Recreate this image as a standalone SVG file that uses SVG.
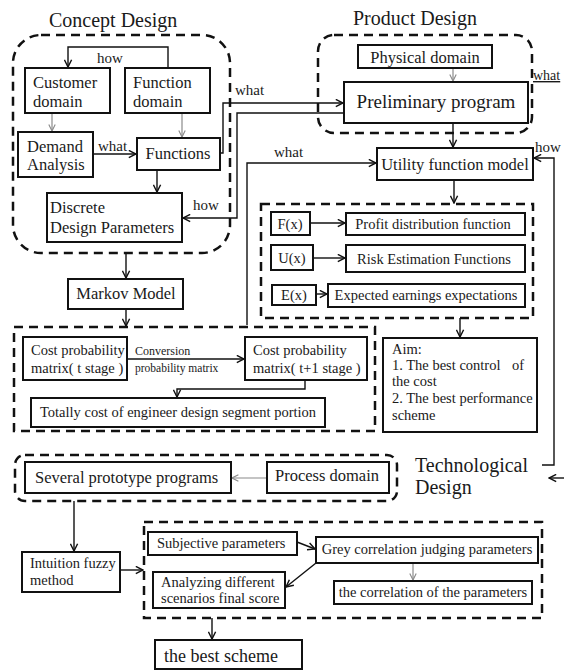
<svg xmlns="http://www.w3.org/2000/svg" width="564" height="670" viewBox="0 0 564 670">
<defs>
<style>
text{font-family:"Liberation Serif","Times New Roman",serif;fill:#1a1a1a}
.box{fill:#fff;stroke:#111;stroke-width:2}
.dash{fill:none;stroke:#111;stroke-width:2.5;stroke-dasharray:9 6}
.c{fill:none;stroke:#111;stroke-width:1.4;marker-end:url(#ah)}
.cn{fill:none;stroke:#111;stroke-width:1.4}
.g{fill:none;stroke:#8a8a8a;stroke-width:1.2;marker-end:url(#ag)}
.t16{font-size:16.5px}
.t14{font-size:14.5px}
.t15{font-size:15px}
.t20{font-size:20px}
.mid{text-anchor:middle}
</style>
<marker id="ah" viewBox="0 0 10 10" refX="9" refY="5" markerWidth="9" markerHeight="9" markerUnits="userSpaceOnUse" orient="auto"><path d="M1,1 L9,5 L1,9" fill="none" stroke="#111" stroke-width="1.6"/></marker>
<marker id="ag" viewBox="0 0 10 10" refX="9" refY="5" markerWidth="8" markerHeight="8" markerUnits="userSpaceOnUse" orient="auto"><path d="M1,1 L9,5 L1,9" fill="none" stroke="#8a8a8a" stroke-width="1.4"/></marker>
</defs>
<rect width="564" height="670" fill="#fff"/>

<g id="containers">
<rect id="concept-design" class="dash" x="13" y="35" width="217" height="218" rx="28"/>
<rect id="product-design" class="dash" x="318" y="35" width="214" height="98" rx="16"/>
<rect id="utility-functions" class="dash" x="261" y="204" width="272" height="114"/>
<rect id="markov-group" class="dash" x="14" y="327" width="361" height="104"/>
<rect id="technological-design" class="dash" x="15" y="455" width="382" height="46" rx="10"/>
<rect id="evaluation-group" class="dash" x="144" y="522" width="398" height="96"/>
<text class="t20" x="49" y="27">Concept Design</text>
<text class="t20" x="353" y="25">Product Design</text>
<text class="t20" x="415" y="472">Technological</text>
<text class="t20" x="415" y="494">Design</text>
</g>

<g id="connectors">
<path class="c" d="M168,68 V47 H68 V67"/>
<path class="g" d="M52,113 V131"/>
<path class="g" d="M182,113 V137"/>
<path class="c" d="M93,154 H136"/>
<path class="c" d="M157,170 V192"/>
<path class="c" d="M220,153 H223 V103 H343"/>
<path class="c" d="M344,113 H237 V218 H183"/>
<path class="g" d="M453,68 V81"/>
<path class="c" d="M453,123 V147"/>
<path class="c" d="M247,325 V163 H376"/>
<path class="c" d="M542,465 H554 V158 H534"/>
<path class="c" d="M454,180 V203"/>
<path class="c" d="M310,223 H345"/>
<path class="c" d="M313,258 H345"/>
<path class="c" d="M316,294 H327"/>
<path class="c" d="M460,318 V337"/>
<path class="c" d="M126,253 V278"/>
<path class="c" d="M126,309 V326"/>
<path class="c" d="M127,359 H244"/>
<path class="c" d="M305,380 V389 H177 V397"/>
<path class="c" d="M564,478 H549"/>
<path class="g" d="M267,478 H232"/>
<path class="c" d="M74,501 V551"/>
<path class="c" d="M120,570 H143"/>
<path class="c" d="M297,542 L315,549"/>
<path class="c" d="M316,563 L286,587"/>
<path class="g" d="M413,563 V580"/>
<path class="c" d="M212,618 V639"/>
<text class="t15" x="97" y="63">how</text>
<text class="t15" x="98" y="151">what</text>
<text class="t15" x="235" y="95">what</text>
<text class="t15" x="193" y="210">how</text>
<text class="t15" x="274" y="157">what</text>
<text class="t15" x="535" y="152">how</text>
<text x="533" y="80" style="font-size:14px;text-decoration:underline">what</text>
<text x="135" y="355" style="font-size:12px">Conversion</text>
<text x="135" y="372" style="font-size:11.5px">probability  matrix</text>
</g>

<g id="customer-domain"><rect class="box" x="25" y="68" width="85" height="45"/><text class="t16" x="33" y="88">Customer</text><text class="t16" x="33" y="107">domain</text></g>
<g id="function-domain"><rect class="box" x="125" y="68" width="85" height="45"/><text class="t16" x="133" y="88">Function</text><text class="t16" x="133" y="107">domain</text></g>
<g id="demand-analysis"><rect class="box" x="18" y="132" width="75" height="45"/><text class="t16" x="27" y="152">Demand</text><text class="t16" x="27" y="170">Analysis</text></g>
<g id="functions"><rect class="box" x="137" y="138" width="83" height="32"/><text class="t16 mid" x="178" y="159">Functions</text></g>
<g id="discrete-design-parameters"><rect class="box" x="47" y="193" width="135" height="49"/><text class="t16" x="50" y="213">Discrete</text><text class="t16" x="50" y="233">Design Parameters</text></g>
<g id="markov-model"><rect class="box" x="68" y="279" width="115" height="30"/><text class="t16 mid" x="126" y="299">Markov Model</text></g>
<g id="physical-domain"><rect class="box" x="358" y="45" width="134" height="23"/><text class="t16 mid" x="425" y="63">Physical domain</text></g>
<g id="preliminary-program"><rect class="box" x="344" y="82" width="184" height="41"/><text class="mid" x="436" y="108" style="font-size:19px">Preliminary program</text></g>
<g id="utility-function-model"><rect class="box" x="377" y="148" width="156" height="32"/><text class="t16 mid" x="455" y="170">Utility function model</text></g>
<g id="fx"><rect class="box" x="271" y="212" width="39" height="23"/><text class="t14 mid" x="290" y="229">F(x)</text></g>
<g id="profit-distribution"><rect class="box" x="346" y="213" width="179" height="22"/><text class="t14 mid" x="433" y="229">Profit distribution  function</text></g>
<g id="ux"><rect class="box" x="271" y="245" width="42" height="25"/><text class="t14 mid" x="292" y="263">U(x)</text></g>
<g id="risk-estimation"><rect class="box" x="346" y="245" width="179" height="27"/><text class="t14 mid" x="434" y="264">Risk Estimation Functions</text></g>
<g id="ex"><rect class="box" x="272" y="285" width="44" height="20"/><text class="t14 mid" x="294" y="300">E(x)</text></g>
<g id="expected-earnings"><rect class="box" x="328" y="284" width="197" height="23"/><text class="t14 mid" x="426" y="300">Expected earnings  expectations</text></g>
<g id="cost-t"><rect class="box" x="23" y="337" width="104" height="43"/><text class="t14" x="31" y="355">Cost probability</text><text class="t14" x="31" y="373">matrix( t stage )</text></g>
<g id="cost-t1"><rect class="box" x="245" y="337" width="122" height="43"/><text class="t14" x="253" y="355">Cost probability</text><text class="t14" x="253" y="373">matrix( t+1 stage )</text></g>
<g id="totally-cost"><rect class="box" x="31" y="398" width="294" height="29"/><text class="t14" x="40" y="417">Totally cost of engineer design  segment portion</text></g>
<g id="aim"><rect class="box" x="383" y="338" width="154" height="94"/><text class="t14" x="392" y="354">Aim:</text><text class="t14"><tspan x="392" y="370">1. The best control</tspan><tspan x="512" y="370">of</tspan></text><text class="t14" x="392" y="386">the cost</text><text class="t14" x="392" y="403">2. The best performance</text><text class="t14" x="392" y="420">scheme</text></g>
<g id="several-prototype"><rect class="box" x="25" y="462" width="206" height="31"/><text class="t16" x="35" y="483">Several prototype programs</text></g>
<g id="process-domain"><rect class="box" x="267" y="462" width="122" height="31"/><text class="t16 mid" x="327" y="481">Process domain</text></g>
<g id="intuition-fuzzy"><rect class="box" x="22" y="552" width="98" height="40"/><text class="t14" x="30" y="568">Intuition  fuzzy</text><text class="t14" x="30" y="585">method</text></g>
<g id="subjective-parameters"><rect class="box" x="148" y="532" width="149" height="23"/><text class="t14" x="157" y="548">Subjective parameters</text></g>
<g id="grey-correlation"><rect class="box" x="316" y="537" width="222" height="26"/><text class="t14 mid" x="427" y="554">Grey correlation judging  parameters</text></g>
<g id="analyzing-scenarios"><rect class="box" x="153" y="572" width="132" height="36"/><text class="t14" x="161" y="587">Analyzing  different</text><text class="t14" x="161" y="603">scenarios final score</text></g>
<g id="correlation-parameters"><rect class="box" x="334" y="581" width="198" height="23"/><text class="t14 mid" x="433" y="597">the correlation of the parameters</text></g>
<g id="best-scheme"><rect class="box" x="155" y="640" width="147" height="29"/><text class="mid" x="221" y="662" style="font-size:18px">the best scheme</text></g>
</svg>
